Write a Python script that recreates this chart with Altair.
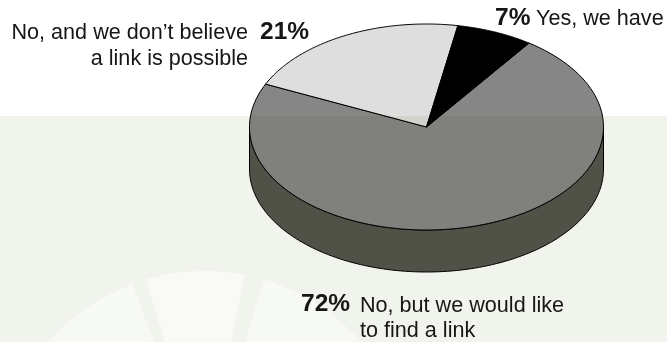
import numpy as np
import pandas as pd
import altair as alt

# Survey shares, clockwise from the first wedge
shares = [7, 72, 21]
slice_fills = ["#000000", "#878686", "#dedede"]
first_edge_deg = 10.2

# Label text
pct_labels = ["7%", "21%", "72%"]
answer_lines = ["Yes, we have", "No, and we don\u2019t believe", "a link is possible",
                "No, but we would like", "to find a link"]

WIDTH, HEIGHT = 667, 342
CX, CY, RX, RY, DEPTH = 426.5, 127.0, 177.0, 103.0, 42.0

x_scale = alt.Scale(domain=[0, WIDTH], range=[0, WIDTH], nice=False, zero=False)
y_scale = alt.Scale(domain=[0, HEIGHT], range=[0, HEIGHT], nice=False, zero=False)


def polygon(xs, ys, **mark):
    df = pd.DataFrame({"px": xs, "py": ys, "i": range(len(xs))})
    return alt.Chart(df).mark_line(**mark).encode(
        x=alt.X("px:Q", scale=x_scale, axis=None),
        y=alt.Y("py:Q", scale=y_scale, axis=None),
        order="i:Q",
    )


def rim(deg_from, deg_to, dy=0.0):
    t = np.radians(np.linspace(deg_from, deg_to, 120))
    return CX + RX * np.sin(t), CY + dy - RY * np.cos(t)


layers = []

# Side wall of the disc
x_top, y_top = rim(90, 270)
x_low, y_low = rim(270, 90, DEPTH)
layers.append(polygon(
    np.r_[x_top, x_low, x_top[0]], np.r_[y_top, y_low, y_top[0]],
    fill="#55564d", stroke="#000000", strokeWidth=1,
))

# Top face wedges, biggest first so the edges of the smaller ones stay on top
edges = first_edge_deg + np.cumsum([0] + shares) * 3.6
for k in [1, 2, 0]:
    xr, yr = rim(edges[k], edges[k + 1])
    layers.append(polygon(
        np.r_[CX, xr, CX], np.r_[CY, yr, CY],
        fill=slice_fills[k], stroke="#000000", strokeWidth=1, strokeJoin="round",
    ))

# Pale panel tinting everything beneath it
panel = alt.Chart(pd.DataFrame({"x0": [0], "x1": [WIDTH], "y0": [116], "y1": [HEIGHT]})).mark_rect(
    color="#f1f4ec", blend="multiply"
).encode(
    x=alt.X("x0:Q", scale=x_scale, axis=None), x2="x1:Q",
    y=alt.Y("y0:Q", scale=y_scale, axis=None), y2="y1:Q",
)
layers.append(panel)

# Faint wheel watermark at the foot of the panel
WX, WY, WR = 205.0, 478.0, 207.0
for a0, a1, alpha in [(-60, -20.5, 0.42), (-16.5, 11, 0.55), (16.5, 60, 0.42)]:
    t = np.radians(np.linspace(a0, a1, 60))
    layers.append(polygon(
        np.r_[WX, WX + WR * np.sin(t), WX], np.r_[WY, WY - WR * np.cos(t), WY],
        fill="#ffffff", fillOpacity=alpha, strokeOpacity=0, clip=True,
    ))


def label(texts, xs, ys, align, bold=False, size=21.6):
    df = pd.DataFrame({"t": texts, "px": xs, "py": ys})
    return alt.Chart(df).mark_text(
        font="Liberation Sans", fontSize=size, fontWeight="bold" if bold else "normal",
        align=align, baseline="alphabetic", color="#161616",
    ).encode(
        x=alt.X("px:Q", scale=x_scale, axis=None),
        y=alt.Y("py:Q", scale=y_scale, axis=None),
        text="t:N",
    )


layers.append(label(pct_labels, [495, 260, 301], [25, 39, 311], "left", bold=True, size=24.5))
layers.append(label([answer_lines[0]], [536], [25], "left"))
layers.append(label(answer_lines[1:3], [248, 248], [39, 65], "right"))
layers.append(label(answer_lines[3:5], [360, 360], [312, 337], "left"))

chart = alt.layer(*layers).properties(
    width=WIDTH, height=HEIGHT, padding=0, background="#ffffff",
    autosize=alt.AutoSizeParams(type="none"),
).configure_view(stroke=None)

chart.save("out.html", embed_options={"renderer": "svg", "actions": False})
